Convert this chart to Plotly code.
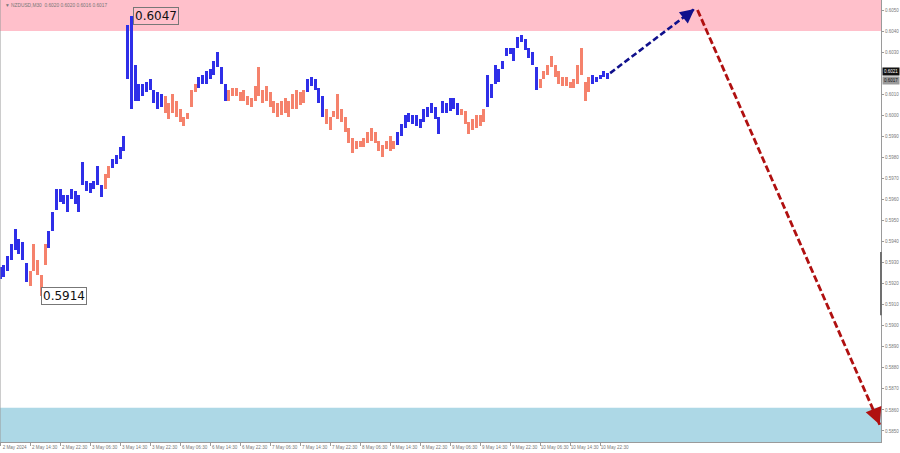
import plotly.graph_objects as go

# ---------------- data (hourly bars) ----------------
highs = [0.5928, 0.5929, 0.5933, 0.5939, 0.5946, 0.5941, 0.5940, 0.5930,
         0.5926, 0.5939, 0.5931, 0.5924, 0.5939,
         0.5945, 0.5954, 0.5965, 0.5965, 0.5962, 0.5962, 0.5965, 0.5964, 0.5962, 0.5978, 0.5969, 0.5968, 0.5969, 0.5976, 0.5967,
         0.5972, 0.5976,
         0.5979, 0.5981, 0.5985, 0.5990, 0.6043, 0.6047, 0.6024, 0.6015, 0.6015, 0.6016, 0.6017, 0.6012, 0.6011, 0.6010,
         0.6009, 0.6006, 0.6010, 0.6007, 0.6003, 0.5999, 0.6001, 0.6012, 0.6015,
         0.6018, 0.6019, 0.6021, 0.6022, 0.6026, 0.6030, 0.6023, 0.6015,
         0.6012, 0.6013, 0.6013, 0.6011, 0.6012, 0.6009, 0.6008, 0.6014, 0.6023, 0.6012, 0.6014, 0.6011, 0.6007, 0.6006,
         0.6007, 0.6008, 0.6007, 0.6010, 0.6012, 0.6011, 0.6012,
         0.6017, 0.6018, 0.6017, 0.6013, 0.6009,
         0.6003, 0.5999, 0.6002, 0.6010, 0.6003, 0.5999, 0.5994, 0.5989, 0.5988, 0.5988, 0.5989, 0.5992, 0.5994, 0.5992,
         0.5988, 0.5986, 0.5988, 0.5990, 0.5988,
         0.5992, 0.5996, 0.6000, 0.6001, 0.6000, 0.6000, 0.5998, 0.6003, 0.6004, 0.6006, 0.6004, 0.5999, 0.6007, 0.6006,
         0.6008, 0.6008, 0.6006,
         0.6003, 0.6002, 0.5997, 0.5998, 0.6000, 0.6000, 0.6003,
         0.6019, 0.6015, 0.6024, 0.6022, 0.6026, 0.6032, 0.6032, 0.6032, 0.6037, 0.6038, 0.6036, 0.6032, 0.6030, 0.6023,
         0.6017, 0.6021, 0.6024, 0.6028, 0.6024, 0.6021, 0.6018, 0.6018, 0.6016, 0.6017, 0.6024, 0.6032, 0.6016, 0.6018,
         0.6019, 0.6018, 0.6019, 0.6021, 0.6020]

lows = [0.5922, 0.5923, 0.5926, 0.5931, 0.5936, 0.5934, 0.5931, 0.5921,
        0.5919, 0.5926, 0.5924, 0.5914, 0.5929,
        0.5937, 0.5945, 0.5955, 0.5959, 0.5958, 0.5954, 0.5960, 0.5958, 0.5954, 0.5967, 0.5964, 0.5963, 0.5965, 0.5967, 0.5961,
        0.5965, 0.5970,
        0.5975, 0.5977, 0.5979, 0.5983, 0.6017, 0.6003, 0.6007, 0.6007, 0.6009, 0.6011, 0.6012, 0.6006, 0.6003, 0.6004,
        0.6001, 0.5998, 0.6001, 0.5999, 0.5997, 0.5995, 0.5998, 0.6004, 0.6011,
        0.6013, 0.6015, 0.6015, 0.6017, 0.6019, 0.6023, 0.6015, 0.6007,
        0.6007, 0.6009, 0.6009, 0.6007, 0.6007, 0.6005, 0.6004, 0.6007, 0.6009, 0.6006, 0.6007, 0.6004, 0.6001, 0.5999,
        0.6000, 0.6001, 0.5999, 0.6003, 0.6003, 0.6005, 0.6006,
        0.6011, 0.6014, 0.6012, 0.6006, 0.5999,
        0.5996, 0.5993, 0.5999, 0.5998, 0.5997, 0.5992, 0.5987, 0.5982, 0.5984, 0.5985, 0.5985, 0.5987, 0.5988, 0.5987,
        0.5983, 0.5980, 0.5984, 0.5983, 0.5984,
        0.5986, 0.5990, 0.5994, 0.5997, 0.5996, 0.5995, 0.5994, 0.5997, 0.5999, 0.6001, 0.5998, 0.5991, 0.6001, 0.6001,
        0.6002, 0.6003, 0.6000,
        0.6000, 0.5996, 0.5991, 0.5993, 0.5994, 0.5995, 0.5997,
        0.6004, 0.6008, 0.6015, 0.6016, 0.6022, 0.6028, 0.6029, 0.6026, 0.6032, 0.6035, 0.6031, 0.6027, 0.6024, 0.6012,
        0.6013, 0.6017, 0.6019, 0.6023, 0.6018, 0.6015, 0.6014, 0.6014, 0.6013, 0.6013, 0.6015, 0.6019, 0.6007, 0.6011,
        0.6015, 0.6016, 0.6017, 0.6018, 0.6017]

# wave segments: number of bars and colour key
wave_lengths = [8, 5, 15, 2, 14, 9, 8, 21, 5, 19, 17, 7, 14, 14, 5]
wave_keys = ["B", "S", "B", "S", "B", "S", "B", "S", "B", "S", "B", "S", "B", "S", "B"]

# forecast arrows (hour, price)
up_arrow_x = [162.7, 185.2]
up_arrow_y = [0.6020, 0.60505]
down_arrow_x = [186.0, 234.6]
down_arrow_y = [0.6050, 0.5853]

# zones (price)
resist_zone = [0.6040, 0.6056]
support_zone = [0.5844, 0.5861]

x_tick_labels = ["2 May 2024", "2 May 14:30", "2 May 22:30", "3 May 06:30", "3 May 14:30",
                 "3 May 22:30", "6 May 06:30", "6 May 14:30", "6 May 22:30", "7 May 06:30",
                 "7 May 14:30", "7 May 22:30", "8 May 06:30", "8 May 14:30", "8 May 22:30",
                 "9 May 06:30", "9 May 14:30", "9 May 22:30", "10 May 06:30", "10 May 14:30",
                 "10 May 22:30"]
y_tick_values = [0.5850, 0.5860, 0.5870, 0.5880, 0.5890, 0.5900, 0.5910, 0.5920, 0.5930,
                 0.5940, 0.5950, 0.5960, 0.5970, 0.5980, 0.5990, 0.6000, 0.6010, 0.6030,
                 0.6040, 0.6050]

hi_label = ("0.6047", 35, 0.6047)
lo_label = ("0.5914", 11, 0.5914)
header = "\u25BC NZDUSD,M30  0.6020 0.6020 0.6016 0.6017"
price_tags = [("0.6021", 0.60210, "#111111", "white"), ("0.6017", 0.60167, "#9a9a9a", "#111111")]

# ---------------- build ----------------
BLUE = "#2f2fe8"
SALMON = "#f5826c"
cmap = {"B": BLUE, "S": SALMON}
colors = []
for n, k in zip(wave_lengths, wave_keys):
    colors += [cmap[k]] * n

hours = list(range(len(highs)))
heights = [h - l for h, l in zip(highs, lows)]

XMAX = 234.93
YMIN, YMAX = 0.584477, 0.605475
SMALL = "Liberation Sans"

fig = go.Figure()
fig.add_trace(go.Bar(x=hours, y=heights, base=lows, marker=dict(color=colors, line=dict(width=0)),
                     width=0.8, showlegend=False, hoverinfo="skip"))

fig.add_trace(go.Scatter(x=up_arrow_x, y=up_arrow_y, mode="lines",
                         line=dict(color="#10108c", width=2.6, dash="6px,3px"),
                         showlegend=False, hoverinfo="skip"))
fig.add_trace(go.Scatter(x=down_arrow_x, y=down_arrow_y, mode="lines",
                         line=dict(color="#b01010", width=2.8, dash="7px,3px"),
                         showlegend=False, hoverinfo="skip"))

shapes = [
    dict(type="rect", xref="paper", yref="y", x0=0, x1=1, y0=resist_zone[0], y1=resist_zone[1],
         fillcolor="#ffc0cb", line=dict(width=0), layer="below"),
    dict(type="rect", xref="paper", yref="y", x0=0, x1=1, y0=support_zone[0], y1=support_zone[1],
         fillcolor="#add8e6", line=dict(width=0), layer="below"),
    dict(type="line", xref="paper", yref="paper", x0=0, x1=0, y0=0, y1=1,
         line=dict(color="#9a9a9a", width=1)),
    dict(type="line", xref="paper", yref="y", x0=1, x1=1, y0=0.5905, y1=0.5935,
         line=dict(color="#707070", width=2)),
]

annotations = [
    dict(x=up_arrow_x[1], y=up_arrow_y[1], xref="x", yref="y", ax=-10, ay=8, text="",
         showarrow=True, arrowhead=2, arrowsize=1.1, arrowwidth=2.6, arrowcolor="#10108c", standoff=0),
    dict(x=down_arrow_x[1], y=down_arrow_y[1], xref="x", yref="y", ax=-6, ay=-15, text="",
         showarrow=True, arrowhead=2, arrowsize=1.2, arrowwidth=2.8, arrowcolor="#b01010", standoff=0),
    dict(x=hi_label[1] + 0.5, y=hi_label[2], xref="x", yref="y", text=hi_label[0], showarrow=False,
         xanchor="left", yanchor="middle", font=dict(family="DejaVu Sans", size=12, color="#111"),
         bordercolor="#777", borderwidth=1, borderpad=1, bgcolor="rgba(0,0,0,0)"),
    dict(x=lo_label[1], y=lo_label[2], xref="x", yref="y", text=lo_label[0], showarrow=False,
         xanchor="left", yanchor="middle", font=dict(family="DejaVu Sans", size=12, color="#111"),
         bordercolor="#777", borderwidth=1, borderpad=1, bgcolor="white"),
    dict(x=0.003, y=0.998, xref="paper", yref="paper", text=header, showarrow=False,
         xanchor="left", yanchor="top", font=dict(family=SMALL, size=4.8, color="#777")),
]
for txt, yv, bg, fc in price_tags:
    annotations.append(dict(x=1.0, y=yv, xref="paper", yref="y", text=txt, showarrow=False,
                            xanchor="left", yanchor="middle", xshift=1,
                            font=dict(family=SMALL, size=4.5, color=fc),
                            bgcolor=bg, borderpad=1))

fig.update_layout(
    width=900, height=453,
    margin=dict(l=0, r=19, t=0, b=11, pad=0),
    plot_bgcolor="white", paper_bgcolor="white",
    bargap=0, shapes=shapes, annotations=annotations,
    xaxis=dict(range=[0, XMAX], showgrid=False, zeroline=False, automargin=False,
               showline=True, linecolor="#9a9a9a", linewidth=1,
               tickmode="array", tickvals=[8 * i + 3.9 for i in range(len(x_tick_labels))],
               ticktext=x_tick_labels, ticks="", tickangle=0, ticklabeloverflow="allow",
               tickfont=dict(family=SMALL, size=4.6, color="#777"),
               minor=dict(ticks="outside", tickmode="array",
                          tickvals=[8 * i for i in range(len(x_tick_labels))],
                          ticklen=3, tickcolor="#999"),
               fixedrange=True),
    yaxis=dict(range=[YMIN, YMAX], side="right", showgrid=False, zeroline=False, automargin=False,
               showline=True, linecolor="#9a9a9a", linewidth=1,
               tickmode="array", tickvals=y_tick_values,
               ticktext=[f"{v:.4f}" for v in y_tick_values],
               ticks="outside", ticklen=2, tickcolor="#999", ticklabeloverflow="allow",
               tickfont=dict(family=SMALL, size=4.5, color="#777"),
               fixedrange=True),
)

fig.write_html("out.html", config={"displayModeBar": False},
               post_script="document.body.style.margin='0';document.body.style.overflow='hidden';")
